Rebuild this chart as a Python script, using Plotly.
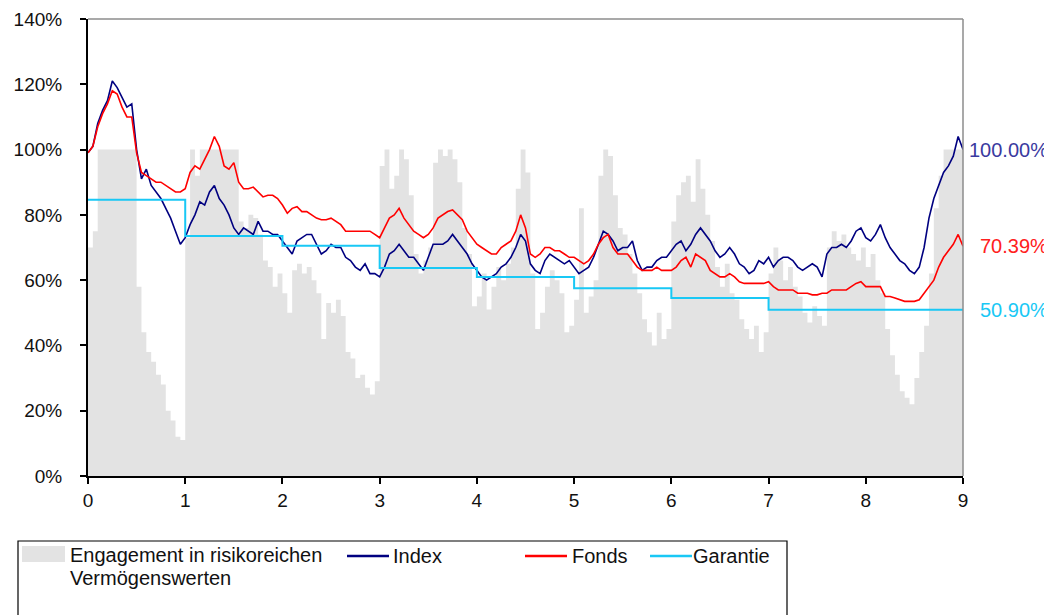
import plotly.graph_objects as go

# Zeitachse (Jahre), Schrittweite 0.05
jahre = [round(i * 0.05, 2) for i in range(181)]

index_werte = [
    99, 101, 108, 112, 115, 121, 119, 116, 113, 114,
    100, 91, 94, 89, 87, 85, 82, 79, 75, 71,
    73, 77, 80, 84, 83, 87, 89, 85, 83, 80,
    76, 74, 76, 75, 74, 78, 75, 75, 74, 74,
    72, 70, 68, 72, 73, 74, 74, 71, 68, 69,
    71, 70, 70, 67, 66, 64, 63, 65, 62, 62,
    61, 64, 68, 69, 71, 69, 67, 67, 65, 63,
    67, 71, 71, 71, 72, 74, 72, 70, 68, 65,
    63, 61, 60, 61, 62, 64, 65, 67, 70, 74,
    72, 65, 63, 62, 66, 68, 67, 66, 65, 66,
    64, 62, 63, 64, 67, 71, 75, 74, 72, 69,
    70, 70, 72, 66, 63, 64, 64, 66, 67, 67,
    69, 71, 72, 69, 71, 74, 76, 74, 72, 69,
    67, 68, 70, 68, 65, 64, 62, 63, 66, 65,
    67, 64, 66, 67, 67, 66, 64, 63, 64, 65,
    64, 61, 68, 70, 70, 71, 70, 72, 75, 76,
    73, 72, 74, 77, 73, 70, 68, 66, 65, 63,
    62, 64, 70, 79, 85, 89, 93, 95, 98, 104,
    100,
]

fonds_werte = [
    99, 101, 107, 111, 114, 118, 117, 113, 110, 110,
    99, 93, 92, 91, 90, 90, 89, 88, 87, 87,
    88, 93, 95, 94, 97, 100, 104, 101, 95, 94,
    96, 90, 88, 88, 88.5, 87, 85.5, 86, 86, 85,
    83, 80.5, 82, 82.5, 81, 81, 80, 79, 78.5, 78.5,
    79, 78, 77, 75, 75, 75, 75, 75, 75, 74,
    73, 76, 79, 80, 82, 79, 77, 75, 74, 73,
    74, 76, 79, 80, 81, 81.5, 80, 78.5, 75, 73,
    71, 70, 69, 68, 68, 70, 71, 72, 75, 80,
    76, 68, 67, 68, 70, 70, 69, 69, 68, 67,
    67, 66, 65, 66, 68, 71, 73, 74, 70, 68,
    68, 68, 66, 64, 63, 63, 63, 64, 63, 63,
    63, 64, 66, 67, 64, 68, 67, 66, 63, 62,
    61, 61, 62, 61, 59.5, 59, 59, 59, 59, 59,
    59.5, 58, 57, 57, 57, 57, 56, 56, 56, 55.5,
    55.5, 56, 56, 57, 57, 57, 57, 58, 59, 59.5,
    58, 58, 58, 58, 55, 55, 54.5, 54, 53.5, 53.5,
    53.5, 54, 56, 58, 60, 64, 67, 69, 71, 74,
    70.39,
]

engagement_werte = [
    70, 75, 100, 100, 100, 100, 100, 100, 100, 100,
    58, 44, 38, 35, 31, 28, 20, 17, 12, 11,
    73, 100, 92, 100, 100, 100, 100, 100, 100, 100,
    100, 78, 76, 80, 79, 74, 66, 64, 58, 62,
    56, 50, 63, 65, 62, 64, 60, 56, 42, 53,
    50, 54, 49, 38, 36, 30, 31, 27, 25, 29,
    95, 100, 88, 92, 100, 97, 86, 68, 62, 66,
    70, 96, 100, 98, 100, 97, 90, 76, 68, 52,
    55, 62, 51, 58, 64, 60, 65, 70, 88, 100,
    93, 62, 45, 50, 58, 63, 60, 56, 44, 46,
    54, 82, 50, 55, 60, 92, 100, 98, 86, 76,
    74, 68, 62, 56, 48, 44, 40, 50, 42, 45,
    78, 86, 90, 92, 84, 97, 88, 80, 72, 64,
    58, 65, 56, 54, 48, 45, 42, 46, 38, 44,
    62, 70, 66, 60, 64, 58, 55, 50, 47, 52,
    49, 46, 70, 75, 72, 74, 70, 68, 66, 70,
    64, 68, 60, 56, 45, 37, 31, 26, 24, 22,
    30, 38, 46, 62, 82, 92, 100, 100, 100, 100,
    100,
]

garantie_jahre = [0, 1, 2, 3, 4, 5, 6, 7, 8, 9]
garantie_werte = [84.6, 73.5, 70.5, 63.7, 61.0, 57.5, 54.5, 50.9, 50.9, 50.9]

FONT = "Liberation Sans, Arial, sans-serif"
OFF = 8  # Seitenrand des Browsers
W, H = 1052 - OFF, 615 - OFF
L, T = 88 - OFF, 19 - OFF
PW, PH = 875, 457
R, B = W - L - PW, H - T - PH


def px(x):
    # Bildschirm-Pixel -> paper
    return (x - OFF - L) / PW


def py(y):
    return (T + PH - (y - OFF)) / PH


fig = go.Figure()
fig.add_trace(go.Scatter(
    x=jahre, y=engagement_werte, name="Engagement in risikoreichen Vermögenswerten",
    mode="lines", line=dict(width=0, shape="hv"),
    fill="tozeroy", fillcolor="#E3E3E3",
))
fig.add_trace(go.Scatter(
    x=jahre, y=index_werte, name="Index", mode="lines",
    line=dict(color="#000080", width=1.6),
))
fig.add_trace(go.Scatter(
    x=jahre, y=fonds_werte, name="Fonds", mode="lines",
    line=dict(color="#FF0000", width=1.6),
))
fig.add_trace(go.Scatter(
    x=garantie_jahre, y=garantie_werte, name="Garantie", mode="lines",
    line=dict(color="#19C8F5", width=2, shape="hv"),
))

# Endwerte rechts
for wert, farbe in [(index_werte[-1], "#3A3AA0"), (fonds_werte[-1], "#FF2020"),
                    (garantie_werte[-1], "#19C8F5")]:
    fig.add_annotation(
        x=px(1050), xref="paper", y=wert, yref="y", xanchor="right", yanchor="middle",
        text=f"{wert:.2f}%", showarrow=False, font=dict(size=20, color=farbe, family=FONT),
    )

# Rahmen oben/rechts grau
fig.add_shape(type="line", xref="paper", yref="paper", x0=0, x1=1, y0=1, y1=1,
              line=dict(color="#8C8C8C", width=1.5))
fig.add_shape(type="line", xref="paper", yref="paper", x0=1, x1=1, y0=0, y1=1,
              line=dict(color="#8C8C8C", width=1.5))

# Legende (manuell, wie im Original)
fig.add_shape(type="rect", xref="paper", yref="paper",
              x0=px(18), x1=px(787), y0=py(541), y1=py(640),
              line=dict(color="black", width=1.2), fillcolor="white")
fig.add_shape(type="rect", xref="paper", yref="paper",
              x0=px(22), x1=px(65), y0=py(546), y1=py(562),
              line=dict(width=0), fillcolor="#E3E3E3")
for x0, farbe in [(347, "#000080"), (525, "#FF0000"), (650, "#19C8F5")]:
    fig.add_shape(type="line", xref="paper", yref="paper",
                  x0=px(x0), x1=px(x0 + 42), y0=py(556), y1=py(556),
                  line=dict(color=farbe, width=2.5))
for xt, yt, txt in [(68, 555, "Engagement in risikoreichen"), (68, 578, "Vermögenswerten"),
                    (391, 556, "Index"), (570, 556, "Fonds"), (691, 556, "Garantie")]:
    fig.add_annotation(x=px(xt), y=py(yt), xref="paper", yref="paper",
                       xanchor="left", yanchor="middle", text=txt, showarrow=False,
                       font=dict(size=20, color="#111111", family=FONT))

fig.update_layout(
    width=W, height=H,
    margin=dict(l=L, r=R, t=T, b=B, autoexpand=False),
    paper_bgcolor="white", plot_bgcolor="white",
    font=dict(family=FONT, size=19, color="#111111"),
    showlegend=False,
    xaxis=dict(range=[0, 9], dtick=1, tick0=0, showgrid=False, zeroline=False,
               showline=True, linecolor="black", linewidth=2,
               ticks="outside", ticklen=6, tickcolor="black", tickwidth=1.5),
    yaxis=dict(range=[0, 140], dtick=20, tick0=0, ticksuffix="%", showgrid=False,
               zeroline=False, showline=True, linecolor="black", linewidth=2,
               ticks="outside", ticklen=6, tickcolor="black", tickwidth=1.5,
               ticklabelstandoff=14),
)

fig.write_html("out.html")
